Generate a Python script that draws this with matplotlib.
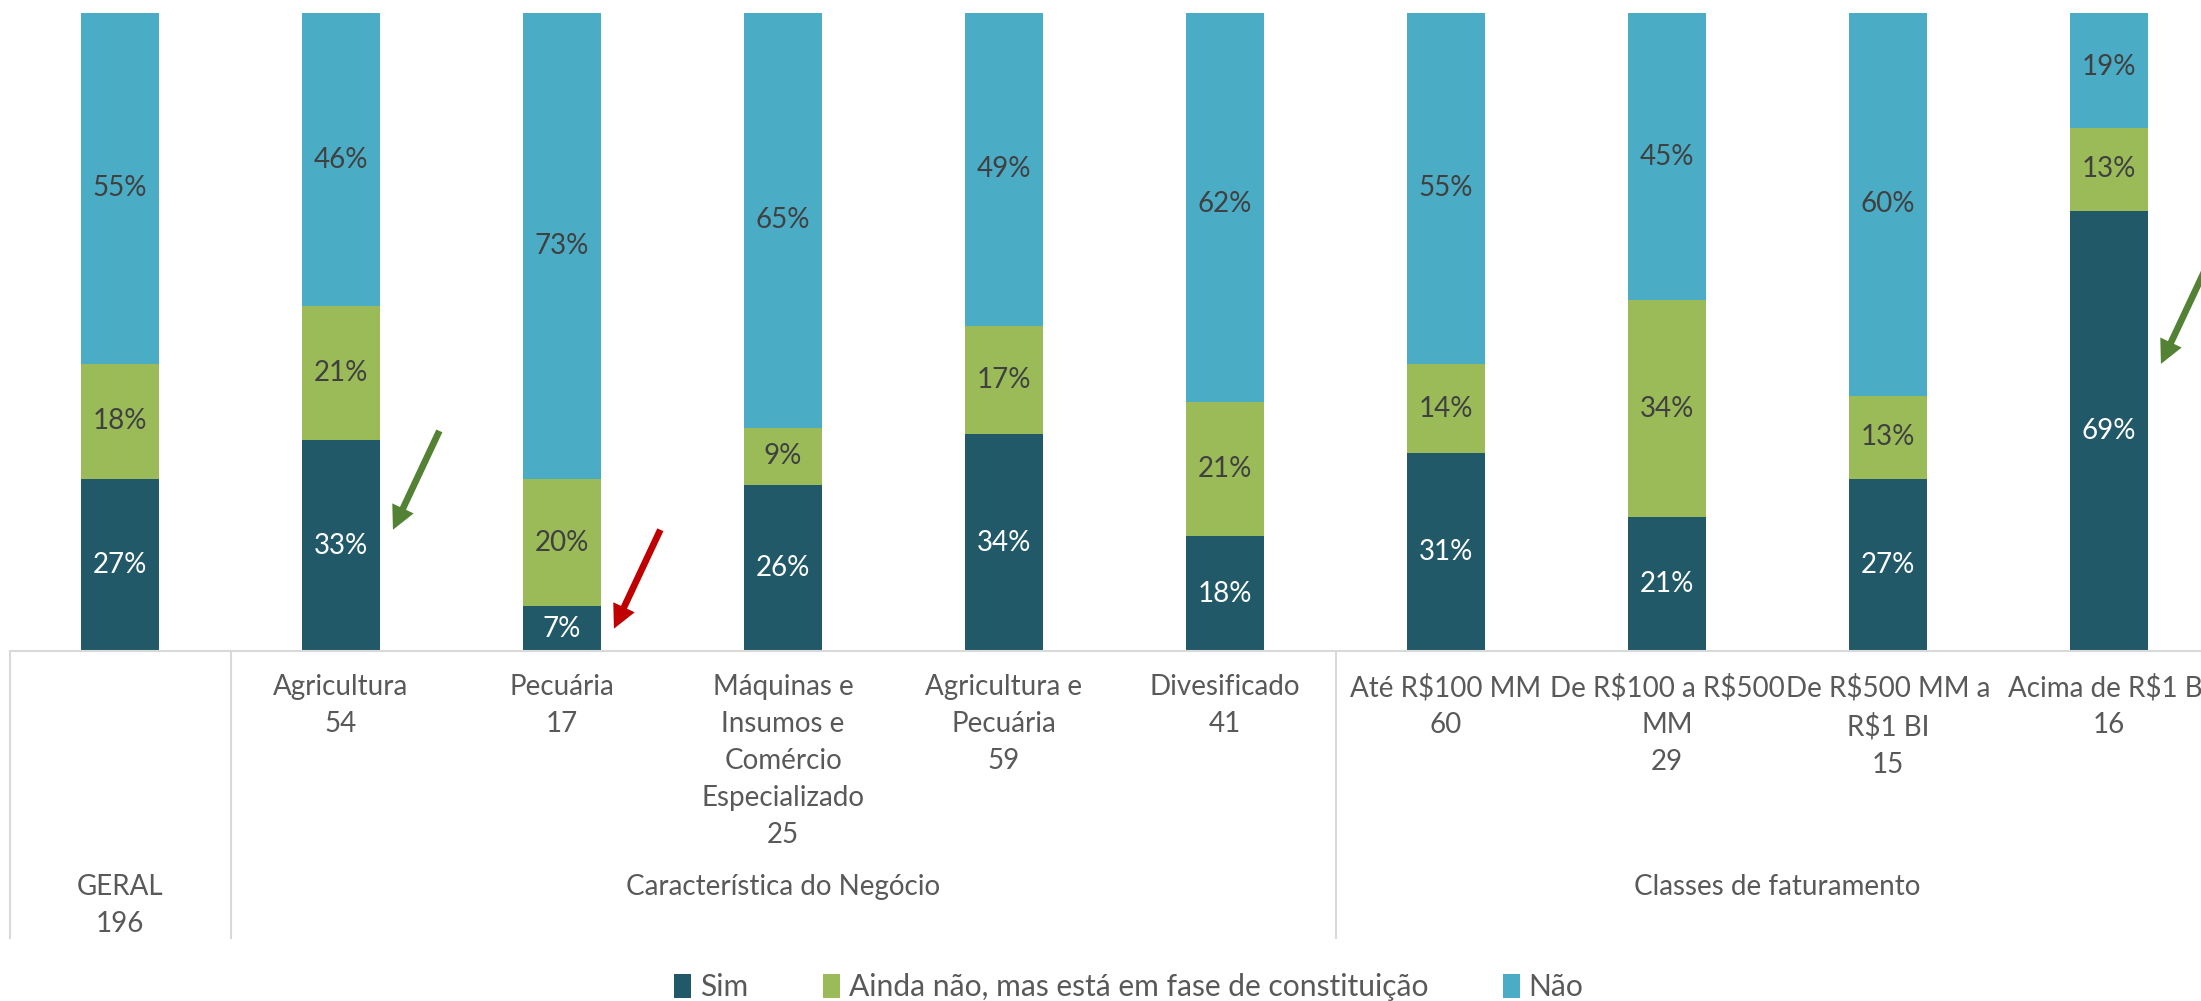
import matplotlib.pyplot as plt
import matplotlib.transforms as mtransforms

plt.rcParams['font.family'] = ['Lato', 'DejaVu Sans']

# categorias (GERAL fica na linha dos grupos)
categorias = ['', 'Agricultura', 'Pecuária', 'Máquinas e\nInsumos e\nComércio\nEspecializado',
              'Agricultura e\nPecuária', 'Divesificado', 'Até R$100 MM', 'De R$100 a R$500\nMM',
              'De R$500 MM a\nR$1 BI', 'Acima de R$1 BI']
amostra = [196, 54, 17, 25, 59, 41, 60, 29, 15, 16]

sim = [27, 33, 7, 26, 34, 18, 31, 21, 27, 69]
ainda = [18, 21, 20, 9, 17, 21, 14, 34, 13, 13]
nao = [55, 46, 73, 65, 49, 62, 55, 45, 60, 19]

series_nomes = ['Sim', 'Ainda não, mas está em fase de constituição', 'Não']

# grupos: (rótulo, primeira categoria, última categoria)
grupos = [('GERAL\n196', 0, 0),
          ('Característica do Negócio', 1, 5),
          ('Classes de faturamento', 6, 9)]

cores = ['#215968', '#9BBB59', '#4BACC6']
cores_texto = ['white', '#404040', '#404040']
cinza_linha = '#D9D9D9'
cinza_texto = '#595959'

fig = plt.figure(figsize=(22.01, 10.01), dpi=100)
# eixo um pouco mais largo que a figura: a última categoria fica cortada como no original
ax = fig.add_axes([9.5 / 2201, 350 / 1001, 2210 / 2201, 638 / 1001])

x = list(range(len(sim)))
base = [0] * len(sim)
for valores, cor, cor_txt, nome in zip([sim, ainda, nao], cores, cores_texto, series_nomes):
    barras = ax.bar(x, valores, bottom=base, width=0.35, color=cor, label=nome)
    for xi, v, b in zip(x, valores, base):
        ax.text(xi, b + v / 2, f'{v}%', ha='center', va='center', fontsize=20, color=cor_txt)
    base = [b + v for b, v in zip(base, valores)]

ax.set_xlim(-0.5, len(sim) - 0.5)
ax.set_ylim(0, 100)
ax.set_xticks([])
ax.set_yticks([])
for lado in ['top', 'left', 'right']:
    ax.spines[lado].set_visible(False)
ax.spines['bottom'].set_color(cinza_linha)
ax.spines['bottom'].set_linewidth(1.5)

trans = mtransforms.blended_transform_factory(ax.transData, ax.transAxes)

# rótulos das categorias com tamanho da amostra
for xi, cat, n in zip(x, categorias, amostra):
    if cat == '':
        continue
    ax.text(xi, -0.036, f'{cat}\n{n}', transform=trans, ha='center', va='top',
            fontsize=20, color=cinza_texto, linespacing=1.52, parse_math=False)

# rótulos dos grupos e linhas separadoras
for rotulo, ini, fim in grupos:
    ax.text((ini + fim) / 2, -0.35, rotulo, transform=trans, ha='center', va='top',
            fontsize=20, color=cinza_texto, linespacing=1.52)
    ax.plot([ini - 0.5, ini - 0.5], [0, -0.45], transform=trans, color=cinza_linha,
            lw=1.5, clip_on=False)
ax.plot([fim + 0.5, fim + 0.5], [0, -0.45], transform=trans, color=cinza_linha,
        lw=1.5, clip_on=False)

# setas de destaque: (categoria, altura da ponta, cor)
setas = [(1, 19, '#548235'), (2, 3.5, '#C00000'), (9, 45, '#548235')]
for cat, ponta, cor in setas:
    ax.annotate('', xy=(cat + 0.235, ponta), xytext=(cat + 0.445, ponta + 15.5),
                arrowprops=dict(arrowstyle='simple,head_length=0.85,head_width=0.85,tail_width=0.24',
                                color=cor, lw=0, mutation_scale=20, shrinkA=0, shrinkB=0),
                annotation_clip=False)

leg = fig.legend(loc='center', bbox_to_anchor=(1129 / 2201, 1 - 987 / 1001), ncol=3,
                 frameon=False, fontsize=21.6, handlelength=0.55, handleheight=0.85,
                 handletextpad=0.3, columnspacing=2.5, labelcolor=cinza_texto)

fig.savefig('out.png', dpi=100)
